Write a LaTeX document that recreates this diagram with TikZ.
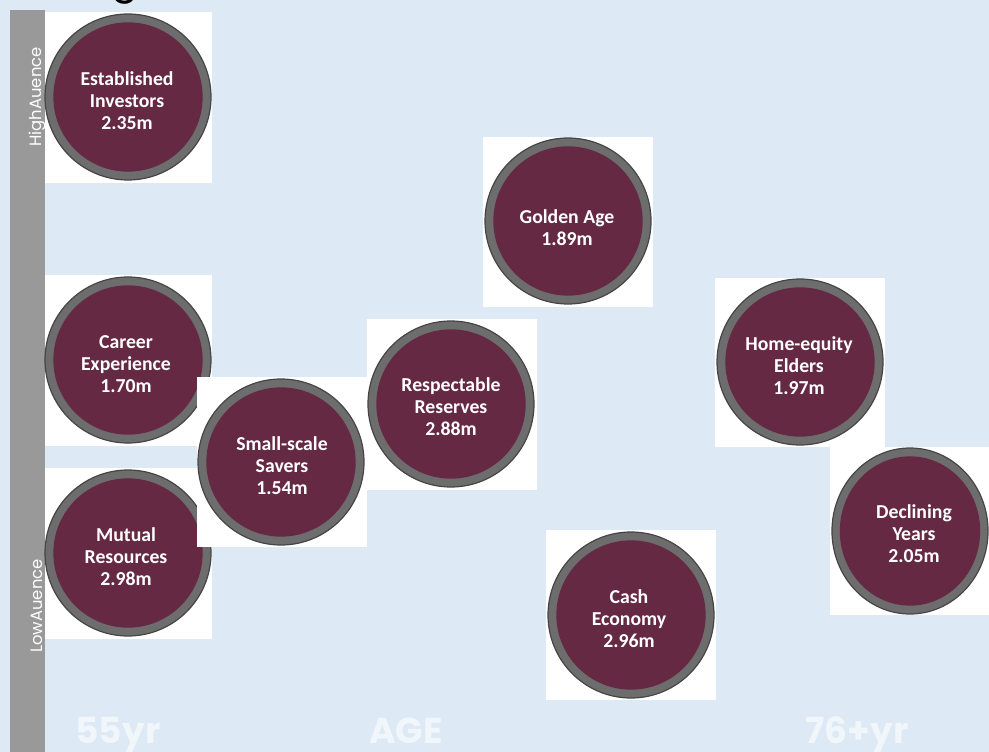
\documentclass[tikz,border=0pt]{standalone}
\usepackage{fontspec}
\newfontfamily\calib{Carlito}
\newfontfamily\geo{Poppins}
\definecolor{bg}{HTML}{DDE9F5}
\definecolor{barc}{HTML}{999999}
\definecolor{ringc}{HTML}{6D6D6D}
\definecolor{ringedge}{HTML}{454545}
\definecolor{maroonc}{HTML}{652943}
\definecolor{pale}{HTML}{F1F6FB}
\begin{document}
\begin{tikzpicture}[x=0.75pt,y=-0.75pt,
  ringnode/.style={circle,fill=ringc,draw=ringedge,line width=0.9pt,minimum size=124.5pt,inner sep=0pt},
  corenode/.style={circle,fill=maroonc,draw=none,minimum size=112pt,inner sep=0pt},
  segtext/.style={align=center,text=white,font=\calib\bfseries\fontsize{14.8}{16.6}\selectfont,inner sep=0pt},
  sidetext/.style={rotate=90,text=white,font=\geo\fontsize{12.3}{14}\selectfont,inner sep=0pt},
  axistext/.style={anchor=base,text=pale,font=\geo\bfseries\fontsize{27}{30}\selectfont,inner sep=0pt}]
\useasboundingbox (0,0) rectangle (989,752);
\fill[bg] (0,0) rectangle (989,752);
\node[anchor=base,text=black,font=\geo\fontsize{30}{30}\selectfont,inner sep=0pt] (ttl) at (125,-6) {g};
% left bar
\fill[barc] (10,10) rectangle (45,752);
\node[sidetext] (high) at (37,97) {HighAuence};
\node[sidetext] (low) at (37,606) {LowAuence};
% Established Investors
\fill[white] (45,12) rectangle (212,183);
\node[ringnode] (est) at (128,97) {};
\node[corenode] (estc) at (est) {};
\node[segtext] (estt) at (127,101) {Established\\Investors\\2.35m};
% Career Experience
\fill[white] (45,275) rectangle (212,446);
\node[ringnode] (car) at (128,360) {};
\node[corenode] (carc) at (car) {};
\node[segtext] (cart) at (126,364) {Career\\Experience\\1.70m};
% Mutual Resources
\fill[white] (45,468) rectangle (212,639);
\node[ringnode] (mut) at (128,553) {};
\node[corenode] (mutc) at (mut) {};
\node[segtext] (mutt) at (126,557) {Mutual\\Resources\\2.98m};
% Small-scale Savers
\fill[white] (197,377) rectangle (367,547);
\node[ringnode] (sml) at (281,462) {};
\node[corenode] (smlc) at (sml) {};
\node[segtext] (smlt) at (282,466) {Small-scale\\Savers\\1.54m};
% Respectable Reserves
\fill[white] (367,319) rectangle (537,490);
\node[ringnode] (res) at (451,404) {};
\node[corenode] (resc) at (res) {};
\node[segtext] (rest) at (451,407) {Respectable\\Reserves\\2.88m};
% Golden Age
\fill[white] (483,137) rectangle (653,307);
\node[ringnode] (gold) at (568,221) {};
\node[corenode] (goldc) at (gold) {};
\node[segtext] (goldt) at (567,228) {Golden Age\\1.89m};
% Cash Economy
\fill[white] (546,530) rectangle (716,700);
\node[ringnode] (cash) at (631,615) {};
\node[corenode] (cashc) at (cash) {};
\node[segtext] (casht) at (629,619) {Cash\\Economy\\2.96m};
% Home-equity Elders
\fill[white] (715,278) rectangle (885,447);
\node[ringnode] (home) at (800,362) {};
\node[corenode] (homec) at (home) {};
\node[segtext] (homet) at (799,366) {Home-equity\\Elders\\1.97m};
% Declining Years
\fill[white] (830,447) rectangle (989,615);
\node[ringnode,xscale=0.94] (dec) at (910,531) {};
\node[corenode,xscale=0.94] (decc) at (dec) {};
\node[segtext] (dect) at (914,534) {Declining\\Years\\2.05m};
% axis labels
\node[axistext] (a55) at (118,743) {55yr};
\node[axistext] (aage) at (406,743) {AGE};
\node[axistext] (a76) at (857,743) {76+yr};
\end{tikzpicture}
\end{document}
